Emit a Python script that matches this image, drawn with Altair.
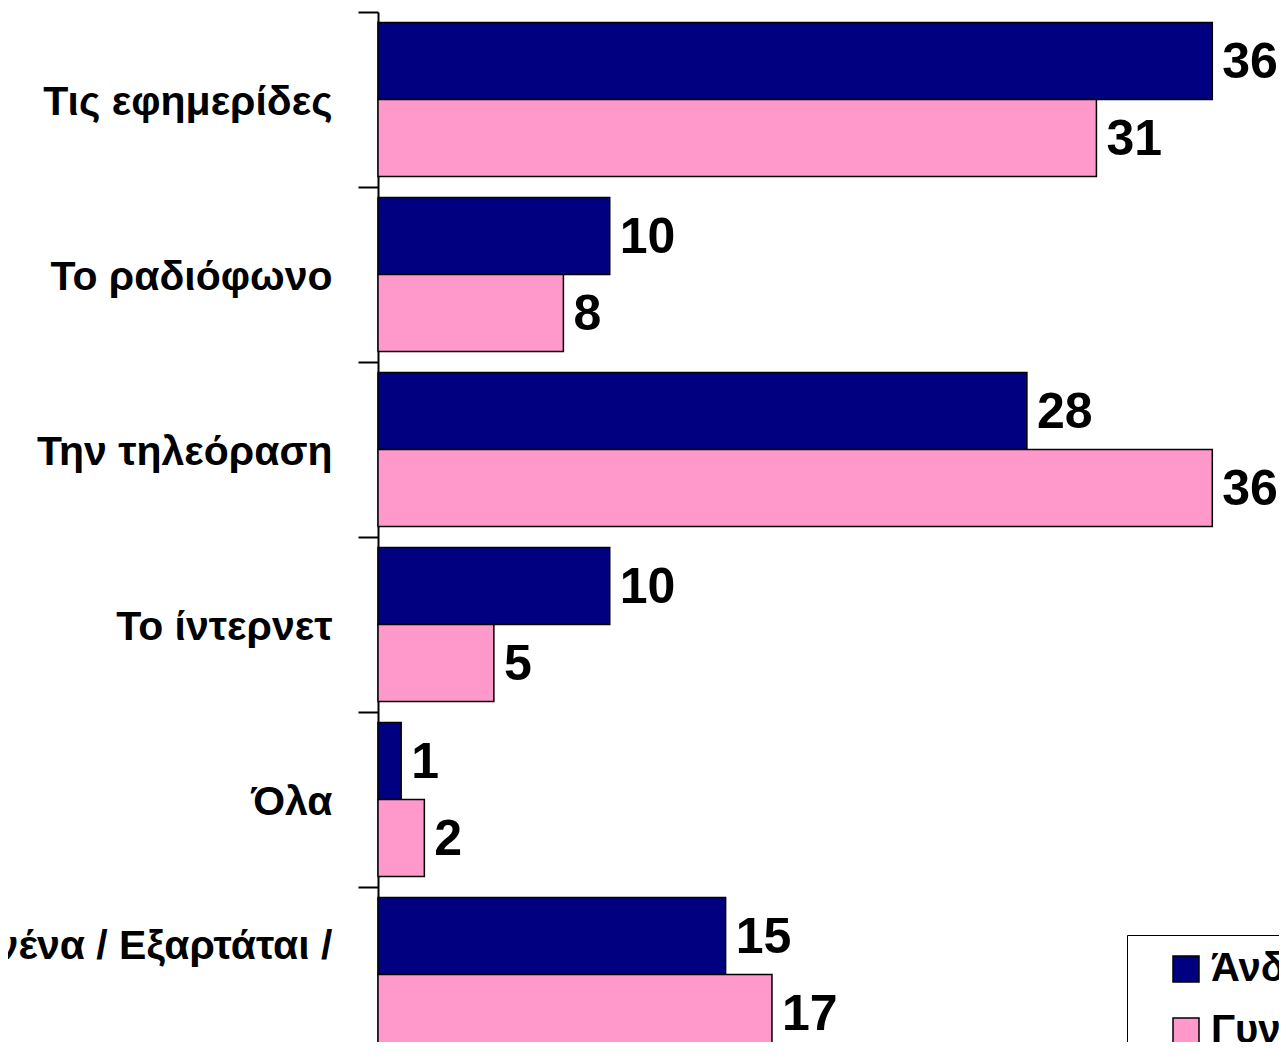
import altair as alt
import pandas as pd

categories = ["Τις εφημερίδες", "Το ραδιόφωνο", "Την τηλεόραση", "Το ίντερνετ", "Όλα", "Κανένα / Εξαρτάται /"]
men = [36, 10, 28, 10, 1, 15]
women = [31, 8, 36, 5, 2, 17]
groups = ["Άνδρες", "Γυναίκες"]
colors = ["#000080", "#FF99CC"]

rows = []
for c, m, w in zip(categories, men, women):
    rows.append({"cat": c, "group": groups[0], "value": m})
    rows.append({"cat": c, "group": groups[1], "value": w})
df = pd.DataFrame(rows)

label_font = "Liberation Sans"
num_font = "Liberation Sans"

y = alt.Y(
    "cat:N", sort=categories, title=None,
    scale=alt.Scale(paddingInner=0, paddingOuter=0),
    axis=alt.Axis(
        tickBand="extent", tickSize=20, tickWidth=2, tickColor="black",
        domainColor="black", domainWidth=2, labelFont=label_font,
        labelFontSize=41, labelFontWeight="bold", labelColor="black",
        labelPadding=26, labelLimit=0,
        labelOffset={"condition": {"test": "datum.value == 'Κανένα / Εξαρτάται /'", "value": -28}, "value": 3},
    ),
)
yoff = alt.YOffset("group:N", sort=groups, scale=alt.Scale(paddingInner=0, paddingOuter=0.136))
x = alt.X("value:Q", scale=alt.Scale(domain=[0, 40]), axis=None)

bars = alt.Chart(df).mark_bar(stroke="black", strokeWidth=1.5).encode(
    x=x, y=y, yOffset=yoff,
    color=alt.Color(
        "group:N", sort=groups,
        scale=alt.Scale(domain=groups, range=colors),
        legend=alt.Legend(
            title=None, orient="none", legendX=749, legendY=923,
            strokeColor="black", fillColor="white", padding=14,
            symbolType="square", symbolSize=676, symbolStrokeColor="black",
            symbolStrokeWidth=1.5, symbolOffset=25,
            labelFont=num_font, labelFontSize=40, labelFontWeight="bold",
            labelColor="black", labelOffset=5, rowPadding=22, labelLimit=0,
        ),
    ),
)

text = alt.Chart(df).mark_text(
    align="left", baseline="middle", dx=10, dy=2, font=num_font,
    fontSize=50, fontWeight="bold", color="black",
).encode(x=x, y=y, yOffset=yoff, text="value:Q")

chart = alt.layer(bars, text).properties(
    width=927, height=1050,
    autosize=alt.AutoSizeParams(type="none"),
    padding={"left": 370, "top": 4, "right": -26, "bottom": -20},
    background="white",
).configure_view(stroke=None)

chart.save("out.html", embed_options={"renderer": "svg", "actions": False})
